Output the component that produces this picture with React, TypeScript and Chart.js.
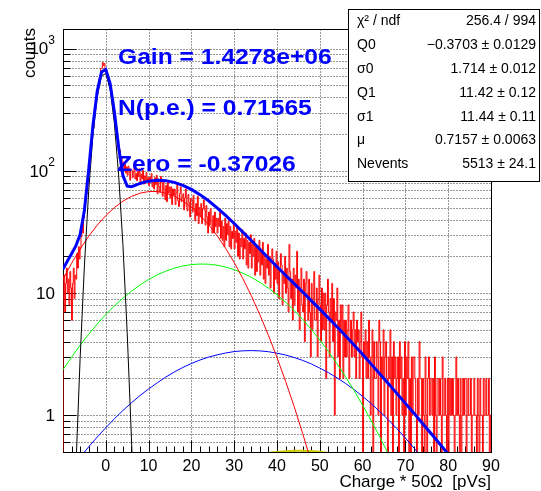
import React, { useEffect, useRef } from 'react';
import { Chart, registerables } from 'chart.js';

Chart.register(...registerables);

const FONT = '"Liberation Sans", Arial, Helvetica, sans-serif';

// ---------------- axis ranges ----------------
const X_MIN = -10;
const X_MAX = 90;
const Y_MIN = 0.5;
const Y_MAX = 1450;

// ---------------- histogram (bins of 0.2 from -10 to 90) ----------------
const HIST_LOW = -10;
const HIST_BIN_WIDTH = 0.2;
const HIST_ZERO_FLOOR = 0.05; // empty bins are drawn down below the axis (log scale)
const histCounts: number[] = [
  9, 14, 7, 12, 16, 10, 13, 8, 15, 11,
  6, 12, 16, 9, 14, 13, 21, 16, 24, 19,
  23, 29, 36, 31, 41, 47, 62, 64, 74, 95,
  101, 118, 152, 163, 207, 221, 274, 298, 362, 389,
  452, 487, 571, 604, 688, 694, 771, 728, 756, 652,
  668, 612, 601, 549, 541, 489, 452, 384, 371, 318,
  291, 243, 226, 189, 178, 152, 148, 126, 131, 114,
  118, 104, 113, 96, 108, 92, 109, 98, 84, 103,
  101, 88, 97, 110, 86, 95, 83, 99, 90, 104,
  80, 94, 86, 101, 78, 91, 79, 97, 84, 88,
  76, 89, 81, 95, 74, 84, 71, 88, 77, 92,
  65, 86, 74, 67, 90, 80, 62, 84, 71, 58,
  76, 56, 83, 66, 74, 60, 74, 53, 71, 63,
  71, 53, 66, 79, 57, 51, 65, 74, 56, 61,
  65, 48, 60, 71, 51, 47, 64, 55, 42, 59,
  58, 46, 63, 49, 39, 54, 43, 62, 37, 50,
  42, 54, 37, 49, 58, 48, 36, 52, 42, 31,
  46, 36, 49, 39, 31, 43, 31, 46, 35, 41,
  31, 41, 35, 46, 28, 39, 27, 35, 24, 41,
  27, 37, 30, 39, 24, 35, 23, 32, 28, 37,
  23, 32, 26, 35, 20, 31, 19, 28, 24, 33,
  19, 28, 23, 31, 17, 27, 16, 26, 21, 30,
  16, 25, 20, 28, 14, 24, 15, 23, 18, 27,
  14, 22, 17, 26, 13, 21, 12, 19, 16, 25,
  14, 20, 11, 18, 23, 19, 10, 17, 13, 22,
  12, 18, 9, 16, 21, 17, 8, 15, 12, 20,
  10, 16, 11, 7, 25, 15, 9, 13, 6, 16,
  8, 14, 11, 22, 7, 13, 5, 11, 16, 8,
  7, 13, 4, 12, 15, 10, 6, 13, 7, 3,
  12, 5, 9, 15, 6, 6, 11, 3, 9, 14,
  8, 4, 11, 5, 10, 5, 10, 2, 8, 13,
  7, 3, 9, 6, 12, 4, 9, 1, 7, 6,
  11, 3, 6, 2, 8, 5, 8, 2, 6, 3,
  6, 3, 5, 8, 2, 4, 6, 3, 5, 7,
  3, 5, 2, 6, 4, 5, 2, 4, 7, 3,
  0, 4, 3, 5, 2, 4, 2, 6, 3, 1,
  3, 5, 0, 4, 2, 2, 4, 3, 1, 6,
  4, 0, 3, 2, 5, 1, 3, 4, 2, 0,
  3, 2, 5, 1, 3, 0, 4, 2, 3, 1,
  2, 3, 0, 4, 2, 3, 1, 2, 0, 4,
  1, 3, 2, 4, 0, 2, 0, 3, 1, 3,
  3, 2, 1, 0, 2, 1, 4, 2, 2, 0,
  2, 1, 0, 3, 1, 0, 2, 3, 1, 2,
  2, 1, 2, 0, 3, 1, 0, 2, 2, 1,
  2, 1, 0, 3, 1, 1, 2, 1, 0, 2,
  0, 2, 1, 2, 1, 2, 1, 0, 1, 3,
  1, 2, 1, 0, 2, 0, 1, 2, 1, 2,
  2, 0, 1, 2, 1, 1, 2, 0, 1, 1,
  2, 1, 1, 0, 2, 1, 0, 2, 1, 1,
  0, 2, 1, 1, 2, 1, 1, 2, 0, 1,
];

// ---------------- fit curves ----------------
const fitX = [
  -10, -9, -8, -7, -6, -5, -4, -3, -2, -1, 0, 1, 2, 3, 4, 5, 6, 7, 8, 9, 10,
  12, 14, 16, 18, 20, 22, 24, 26, 28, 30, 32, 34, 36, 38, 40, 42, 44, 46, 48, 50,
  52, 54, 56, 58, 60, 62, 64, 66, 68, 70, 72, 74, 76, 78, 80, 82,
];
const fitY = [
  15.7, 18.2, 21.0, 24.3, 30.1, 47.5, 102.5, 235.8, 450.1, 645.5, 677.0, 520.6, 305.5, 155.7, 91.7, 75.1, 74.2, 76.5, 78.9, 80.9, 82.4,
  83.9, 83.2, 80.6, 76.2, 70.5, 63.9, 56.9, 49.9, 43.2, 37.1, 31.6, 26.9, 22.8, 19.3, 16.4, 14.0, 11.95, 10.2, 8.68, 7.38,
  6.27, 5.30, 4.47, 3.76, 3.16, 2.62, 2.19, 1.82, 1.51, 1.25, 1.04, 0.856, 0.708, 0.584, 0.481, 0.39,
];

const pedX = [-7, -6, -5, -4, -3, -2, -1, 0, 1, 2, 3, 4, 5, 6, 7];
const pedY = [0.361, 2.91, 16.7, 68.1, 197.5, 407.8, 599.1, 626.3, 465.8, 246.5, 92.7, 24.9, 4.74, 0.64, 0.062];

const pe1X = [-10, -8, -6, -4, -2, 0, 2, 4, 6, 8, 10, 12, 14, 16, 18, 20, 22, 24, 26, 28, 30, 32, 34, 36, 38, 40, 42, 44, 46, 48];
const pe1Y = [12.98, 17.52, 22.95, 29.17, 35.99, 43.08, 50.07, 56.47, 61.82, 65.68, 67.72, 67.77, 65.83, 62.05, 56.77, 50.41, 43.44, 36.34, 29.5, 23.24, 17.77, 13.19, 9.5, 6.64, 4.51, 2.97, 1.9, 1.18, 0.708, 0.414];

const pe2X = [-10, -8, -6, -4, -2, 0, 2, 4, 6, 8, 10, 12, 14, 16, 18, 20, 22, 24, 26, 28, 30, 32, 34, 36, 38, 40, 42, 44, 46, 48, 50, 52, 54, 56, 58, 60, 62, 64, 66, 68];
const pe2Y = [2.36, 2.99, 3.74, 4.6, 5.58, 6.67, 7.84, 9.08, 10.36, 11.65, 12.9, 14.07, 15.11, 15.99, 16.66, 17.1, 17.29, 17.22, 16.9, 16.33, 15.54, 14.57, 13.46, 12.24, 10.97, 9.68, 8.42, 7.21, 6.08, 5.05, 4.13, 3.33, 2.645, 2.069, 1.593, 1.209, 0.904, 0.666, 0.483, 0.344];

const pe3X = [-10, -8, -6, -4, -2, 0, 2, 4, 6, 8, 10, 12, 14, 16, 18, 20, 22, 24, 26, 28, 30, 32, 34, 36, 38, 40, 42, 44, 46, 48, 50, 52, 54, 56, 58, 60, 62, 64, 66, 68, 70, 72, 74, 76];
const pe3Y = [0.296, 0.368, 0.452, 0.551, 0.663, 0.79, 0.935, 1.093, 1.264, 1.45, 1.64, 1.84, 2.05, 2.26, 2.46, 2.65, 2.83, 2.99, 3.12, 3.23, 3.32, 3.365, 3.38, 3.361, 3.31, 3.22, 3.11, 2.97, 2.81, 2.63, 2.43, 2.233, 2.027, 1.822, 1.621, 1.428, 1.245, 1.074, 0.918, 0.777, 0.65, 0.539, 0.442, 0.359];

const pe4X = [38, 40, 42, 44, 46, 48, 50, 52];
const pe4Y = [0.492, 0.4995, 0.508, 0.512, 0.513, 0.509, 0.502, 0.491];

// ---------------- axes / labels ----------------
const xTickLabels = [0, 10, 20, 30, 40, 50, 60, 70, 80, 90];
const xGridValues = [0, 10, 20, 30, 40, 50, 60, 70, 80];
const yLabelValues = [1, 10, 100, 1000];
const yLabelBase = ['1', '10', '10', '10'];
const yLabelExp = ['', '', '2', '3'];
const yDecades = [0.1, 1, 10, 100, 1000];
const xTitle = 'Charge * 50Ω  [pVs]';
const yTitle = 'counts';

const fitTexts = ['Gain = 1.4278e+06', 'N(p.e.) = 0.71565', 'Zero = -0.37026'];
const statsNames = ['χ² / ndf', 'Q0', 'σ0', 'Q1', 'σ1', 'μ', 'Nevents'];
const statsValues = ['256.4 / 994', '−0.3703 ± 0.0129', '1.714 ± 0.012', '11.42 ± 0.12', '11.44 ± 0.11', '0.7157 ± 0.0063', '5513 ± 24.1'];

const pts = (xs: number[], ys: number[]) => xs.map((x, i) => ({ x, y: ys[i] }));

const rootStyle = {
  id: 'rootStyle',
  beforeDatasetsDraw(chart: any) {
    const { ctx, chartArea: a } = chart;
    const xs = chart.scales.x;
    const ys = chart.scales.y;
    const L = Math.round(a.left) + 0.5;
    const R = Math.round(a.right) + 0.5;
    const T = Math.round(a.top) + 0.5;
    const B = Math.round(a.bottom) + 0.5;
    ctx.save();
    // dotted grid
    ctx.strokeStyle = 'rgba(0,0,0,0.8)';
    ctx.lineWidth = 1;
    ctx.setLineDash([1, 2]);
    ctx.beginPath();
    for (const v of xGridValues) {
      const px = Math.round(xs.getPixelForValue(v)) + 0.5;
      ctx.moveTo(px, T);
      ctx.lineTo(px, B);
    }
    for (const d of yDecades) {
      for (let m = 1; m <= 9; m++) {
        const v = m * d;
        if (v <= Y_MIN || v >= Y_MAX) continue;
        const py = Math.round(ys.getPixelForValue(v)) + 0.5;
        ctx.moveTo(L, py);
        ctx.lineTo(R, py);
      }
    }
    ctx.stroke();
    ctx.setLineDash([]);
    // ticks (inside the frame)
    ctx.strokeStyle = '#000';
    ctx.beginPath();
    for (const d of yDecades) {
      for (let m = 1; m <= 9; m++) {
        const v = m * d;
        if (v <= Y_MIN || v >= Y_MAX) continue;
        const py = Math.round(ys.getPixelForValue(v)) + 0.5;
        const len = m === 1 ? 13 : 7;
        ctx.moveTo(L, py);
        ctx.lineTo(L + len, py);
      }
    }
    for (let v = X_MIN + 2; v < X_MAX; v += 2) {
      const px = Math.round(xs.getPixelForValue(v)) + 0.5;
      const len = v % 10 === 0 ? 12 : 6;
      ctx.moveTo(px, B);
      ctx.lineTo(px, B - len);
    }
    ctx.stroke();
    // frame
    ctx.strokeRect(L, T, R - L, B - T);
    ctx.restore();
  },
  afterDraw(chart: any) {
    const { ctx, chartArea: a } = chart;
    const xs = chart.scales.x;
    const ys = chart.scales.y;
    ctx.save();
    ctx.fillStyle = '#000';
    // x tick labels
    ctx.font = `16px ${FONT}`;
    ctx.textAlign = 'center';
    ctx.textBaseline = 'middle';
    xTickLabels.forEach((v) => ctx.fillText(String(v), xs.getPixelForValue(v), 467));
    // y tick labels
    yLabelValues.forEach((v, i) => {
      const py = ys.getPixelForValue(v);
      const right = 55;
      ctx.textAlign = 'right';
      ctx.textBaseline = 'middle';
      if (yLabelExp[i]) {
        ctx.font = `12px ${FONT}`;
        const ew = ctx.measureText(yLabelExp[i]).width;
        ctx.fillText(yLabelExp[i], right, py - 8);
        ctx.font = `17px ${FONT}`;
        ctx.fillText(yLabelBase[i], right - ew, py + 1);
      } else {
        ctx.font = `17px ${FONT}`;
        ctx.fillText(yLabelBase[i], right, py + 1);
      }
    });
    // axis titles
    ctx.font = `17px ${FONT}`;
    ctx.textBaseline = 'alphabetic';
    ctx.textAlign = 'right';
    ctx.fillText(xTitle, a.right, 487);
    ctx.save();
    ctx.translate(35, a.top - 1);
    ctx.rotate(-Math.PI / 2);
    ctx.textAlign = 'right';
    ctx.fillText(yTitle, 0, 0);
    ctx.restore();
    // fit result texts
    ctx.fillStyle = '#0000ff';
    ctx.font = `bold 22px ${FONT}`;
    ctx.textAlign = 'left';
    const pos = [[118, 64], [118, 114.5], [117, 170.5]];
    fitTexts.forEach((t, i) => {
      ctx.save();
      ctx.translate(pos[i][0], pos[i][1]);
      ctx.scale(1.12, 1);
      ctx.fillText(t, 0, 0);
      ctx.restore();
    });
    // stats box
    const bx = 348.5, by = 9.5, bw = 191, bh = 172;
    ctx.fillStyle = '#fff';
    ctx.fillRect(bx, by, bw, bh);
    ctx.strokeStyle = '#000';
    ctx.lineWidth = 1;
    ctx.strokeRect(bx, by, bw, bh);
    ctx.fillStyle = '#000';
    ctx.font = `14px ${FONT}`;
    ctx.textBaseline = 'middle';
    statsNames.forEach((n, i) => {
      const cy = 21.5 + 23.8 * i;
      ctx.textAlign = 'left';
      ctx.fillText(n, 357, cy);
      ctx.textAlign = 'right';
      ctx.fillText(statsValues[i], 536, cy);
    });
    ctx.restore();
  },
};

export default function App() {
  const ref = useRef<HTMLCanvasElement>(null);
  useEffect(() => {
    const histPoints = [
      { x: HIST_LOW, y: HIST_ZERO_FLOOR },
      ...histCounts.map((c, i) => ({ x: HIST_LOW + (i + 1) * HIST_BIN_WIDTH, y: c > 0 ? c : HIST_ZERO_FLOOR })),
      { x: HIST_LOW + histCounts.length * HIST_BIN_WIDTH, y: HIST_ZERO_FLOOR },
    ];
    const curve = (label: string, xs: number[], ys: number[], color: string, width: number, order: number) => ({
      label,
      data: pts(xs, ys),
      borderColor: color,
      backgroundColor: color,
      borderWidth: width,
      pointRadius: 0,
      fill: false,
      tension: 0,
      order,
    });
    const chart = new Chart(ref.current as HTMLCanvasElement, {
      type: 'line',
      data: {
        datasets: [
          curve('Total fit', fitX, fitY, '#0000ff', 3, 0),
          curve('Pedestal', pedX, pedY, '#000000', 1, 1),
          curve('1 p.e.', pe1X, pe1Y, '#ff0000', 1, 2),
          curve('2 p.e.', pe2X, pe2Y, '#00ff00', 1, 3),
          curve('3 p.e.', pe3X, pe3Y, '#0000ff', 1, 4),
          curve('4 p.e.', pe4X, pe4Y, '#cccc00', 2, 5),
          {
            label: 'Data',
            data: histPoints,
            borderColor: '#ff0000',
            backgroundColor: '#ff0000',
            borderWidth: 1,
            pointRadius: 0,
            fill: false,
            stepped: 'after',
            order: 10,
          } as any,
        ],
      },
      options: {
        responsive: false,
        animation: false,
        devicePixelRatio: 1,
        events: [],
        layout: { padding: { left: 63, top: 29, right: 50, bottom: 39 } },
        plugins: { legend: { display: false }, tooltip: { enabled: false }, title: { display: false } },
        scales: {
          x: { type: 'linear', min: X_MIN, max: X_MAX, bounds: 'data', display: false },
          y: { type: 'logarithmic', min: Y_MIN, max: Y_MAX, bounds: 'data', display: false },
        },
      } as any,
      plugins: [rootStyle],
    });
    return () => chart.destroy();
  }, []);
  return (
    <div style={{ position: 'fixed', left: 0, top: 0, width: 541, height: 491, background: '#fff' }}>
      <canvas ref={ref} width={541} height={491} style={{ display: 'block', width: 541, height: 491 }} />
    </div>
  );
}
